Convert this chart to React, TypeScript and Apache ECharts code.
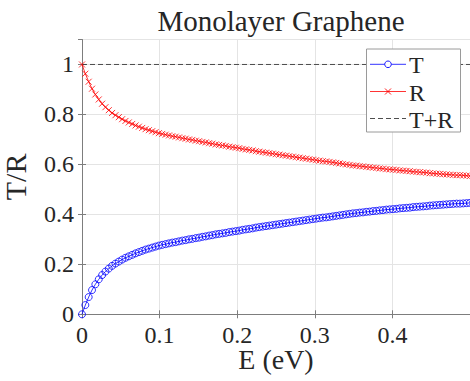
import React, { useEffect, useRef } from "react";
import * as echarts from "echarts";

const E = [
  0, 0.0043, 0.0086, 0.0129, 0.0172, 0.0216, 0.0259, 0.0302, 0.0345, 0.0388,
  0.0431, 0.0474, 0.0517, 0.056, 0.0603, 0.0647, 0.069, 0.0733, 0.0776, 0.0819,
  0.0862, 0.0905, 0.0948, 0.0991, 0.1034, 0.1078, 0.1121, 0.1164, 0.1207, 0.125,
  0.1293, 0.1336, 0.1379, 0.1422, 0.1466, 0.1509, 0.1552, 0.1595, 0.1638, 0.1681,
  0.1724, 0.1767, 0.181, 0.1853, 0.1897, 0.194, 0.1983, 0.2026, 0.2069, 0.2112,
  0.2155, 0.2198, 0.2241, 0.2284, 0.2328, 0.2371, 0.2414, 0.2457, 0.25, 0.2543,
  0.2586, 0.2629, 0.2672, 0.2716, 0.2759, 0.2802, 0.2845, 0.2888, 0.2931, 0.2974,
  0.3017, 0.306, 0.3103, 0.3147, 0.319, 0.3233, 0.3276, 0.3319, 0.3362, 0.3405,
  0.3448, 0.3491, 0.3534, 0.3578, 0.3621, 0.3664, 0.3707, 0.375, 0.3793, 0.3836,
  0.3879, 0.3922, 0.3966, 0.4009, 0.4052, 0.4095, 0.4138, 0.4181, 0.4224, 0.4267,
  0.431, 0.4353, 0.4397, 0.444, 0.4483, 0.4526, 0.4569, 0.4612, 0.4655, 0.4698,
  0.4741, 0.4784, 0.4828, 0.4871, 0.4914, 0.4957, 0.5,
];

const T = [
  0, 0.037, 0.069, 0.097, 0.12, 0.14, 0.157, 0.171, 0.183, 0.194,
  0.203, 0.211, 0.219, 0.226, 0.232, 0.238, 0.244, 0.249, 0.254, 0.259,
  0.263, 0.267, 0.271, 0.275, 0.278, 0.281, 0.284, 0.287, 0.289, 0.292,
  0.295, 0.297, 0.3, 0.302, 0.305, 0.307, 0.31, 0.312, 0.315, 0.317,
  0.32, 0.322, 0.324, 0.326, 0.329, 0.331, 0.333, 0.335, 0.338, 0.34,
  0.342, 0.344, 0.347, 0.349, 0.351, 0.353, 0.355, 0.357, 0.359, 0.361,
  0.363, 0.365, 0.367, 0.369, 0.371, 0.373, 0.375, 0.377, 0.379, 0.381,
  0.383, 0.385, 0.387, 0.388, 0.39, 0.392, 0.394, 0.396, 0.398, 0.4,
  0.402, 0.404, 0.405, 0.407, 0.408, 0.41, 0.411, 0.413, 0.414, 0.416,
  0.417, 0.419, 0.42, 0.421, 0.422, 0.424, 0.425, 0.426, 0.427, 0.429,
  0.43, 0.431, 0.432, 0.433, 0.435, 0.436, 0.437, 0.438, 0.439, 0.44,
  0.441, 0.442, 0.443, 0.443, 0.444, 0.445, 0.446,
];

const R = [
  1.0, 0.963, 0.931, 0.903, 0.88, 0.86, 0.843, 0.829, 0.817, 0.806,
  0.797, 0.789, 0.781, 0.774, 0.768, 0.762, 0.756, 0.751, 0.746, 0.741,
  0.737, 0.733, 0.729, 0.725, 0.722, 0.719, 0.716, 0.713, 0.711, 0.708,
  0.705, 0.703, 0.7, 0.698, 0.695, 0.693, 0.69, 0.688, 0.685, 0.683,
  0.68, 0.678, 0.676, 0.674, 0.671, 0.669, 0.667, 0.665, 0.662, 0.66,
  0.658, 0.656, 0.653, 0.651, 0.649, 0.647, 0.645, 0.643, 0.641, 0.639,
  0.637, 0.635, 0.633, 0.631, 0.629, 0.627, 0.625, 0.623, 0.621, 0.619,
  0.617, 0.615, 0.613, 0.612, 0.61, 0.608, 0.606, 0.604, 0.602, 0.6,
  0.598, 0.596, 0.595, 0.593, 0.592, 0.59, 0.589, 0.587, 0.586, 0.584,
  0.583, 0.581, 0.58, 0.579, 0.578, 0.576, 0.575, 0.574, 0.573, 0.571,
  0.57, 0.569, 0.568, 0.567, 0.565, 0.564, 0.563, 0.562, 0.561, 0.56,
  0.559, 0.558, 0.557, 0.557, 0.556, 0.555, 0.554,
];

// T+R sum line (constant at 1 across the range)
const TR_E = [0, 0.5];
const TR = [1, 1];

const TITLE = "Monolayer Graphene";
const X_NAME = "E (eV)";
const Y_NAME = "T/R";
const SERIES_NAMES = ["T", "R", "T+R"];

const FONT = "'Liberation Serif', 'DejaVu Serif', serif";
const TEXT = "#262626";
const AXIS = "#7d7d7d";
const GRID = "#e4e4e4";
const BLUE = "#0000ff";
const RED = "#ff0000";
const DASH = "#3a3a3a";

export default function App() {
  const ref = useRef<HTMLDivElement>(null);
  useEffect(() => {
    if (!ref.current) return;
    const chart = echarts.init(ref.current, undefined, { renderer: "svg" });
    const tickCommon = { inside: true, length: 4, lineStyle: { color: AXIS, width: 1 } };

    // custom MATLAB-like legend box
    const lx0 = 370, lx1 = 406, lxc = 388, ltx = 409;
    const rows = [64.3, 91.5, 118.5];
    const Z = 100;
    const legendText = (t: string, y: number) => ({
      type: "text",
      z: Z + 2,
      x: ltx,
      y,
      style: {
        text: t,
        fontFamily: FONT,
        fontSize: 24,
        fill: TEXT,
        verticalAlign: "middle",
        align: "left",
      },
    });
    const graphic = [
      {
        type: "rect",
        z: Z,
        silent: true,
        shape: { x: 366.5, y: 49, width: 94, height: 83 },
        style: { fill: "#ffffff", stroke: "#9a9a9a", lineWidth: 1 },
      },
      {
        type: "line",
        z: Z + 1,
        shape: { x1: lx0, y1: rows[0], x2: lx1, y2: rows[0] },
        style: { stroke: BLUE, lineWidth: 0.8 },
      },
      {
        type: "circle",
        z: Z + 2,
        shape: { cx: lxc, cy: rows[0], r: 3.3 },
        style: { fill: "#ffffff", stroke: BLUE, lineWidth: 0.9 },
      },
      legendText(SERIES_NAMES[0], rows[0] + 1),
      {
        type: "line",
        z: Z + 1,
        shape: { x1: lx0, y1: rows[1], x2: lx1, y2: rows[1] },
        style: { stroke: RED, lineWidth: 0.8 },
      },
      {
        type: "line",
        z: Z + 2,
        shape: { x1: lxc - 3, y1: rows[1] - 3, x2: lxc + 3, y2: rows[1] + 3 },
        style: { stroke: RED, lineWidth: 0.9 },
      },
      {
        type: "line",
        z: Z + 2,
        shape: { x1: lxc - 3, y1: rows[1] + 3, x2: lxc + 3, y2: rows[1] - 3 },
        style: { stroke: RED, lineWidth: 0.9 },
      },
      legendText(SERIES_NAMES[1], rows[1] + 1),
      {
        type: "line",
        z: Z + 1,
        shape: { x1: lx0, y1: rows[2], x2: lx1, y2: rows[2] },
        style: { stroke: DASH, lineWidth: 0.9, lineDash: [5, 3] },
      },
      legendText(SERIES_NAMES[2], rows[2] + 1),
    ];

    chart.setOption({
      animation: false,
      backgroundColor: "#ffffff",
      title: {
        text: TITLE,
        left: 276,
        top: 1,
        textAlign: "center",
        textStyle: { fontFamily: FONT, fontSize: 29, fontWeight: "normal", color: TEXT },
      },
      grid: { left: 82, right: 0, top: 39.5, bottom: 66.7, outerBoundsMode: "none", containLabel: false },
      graphic,
      xAxis: [
        {
          type: "value",
          min: 0,
          max: 0.5,
          interval: 0.1,
          position: "bottom",
          name: X_NAME,
          nameLocation: "middle",
          nameGap: 31,
          nameMoveOverlap: false,
          nameTextStyle: { fontFamily: FONT, fontSize: 28, color: TEXT },
          axisLine: { show: true, lineStyle: { color: AXIS, width: 1 } },
          axisTick: tickCommon,
          axisLabel: {
            margin: 9,
            fontFamily: FONT,
            fontSize: 24,
            color: TEXT,
            showMaxLabel: false,
          },
          splitLine: { show: true, lineStyle: { color: GRID, width: 1 } },
        },
        {
          type: "value",
          min: 0,
          max: 0.5,
          interval: 0.1,
          position: "top",
          axisLine: { show: true, lineStyle: { color: AXIS, width: 1 } },
          axisTick: tickCommon,
          axisLabel: { show: false },
          splitLine: { show: false },
        },
      ],
      yAxis: [
        {
          type: "value",
          min: 0,
          max: 1.1,
          interval: 0.2,
          position: "left",
          name: Y_NAME,
          nameLocation: "middle",
          nameGap: 52,
          nameMoveOverlap: false,
          nameTextStyle: { fontFamily: FONT, fontSize: 30, color: TEXT },
          axisLine: { show: true, lineStyle: { color: AXIS, width: 1 } },
          axisTick: tickCommon,
          axisLabel: {
            margin: 8,
            fontFamily: FONT,
            fontSize: 24,
            color: TEXT,
            showMaxLabel: false,
          },
          splitLine: { show: true, lineStyle: { color: GRID, width: 1 } },
        },
        {
          type: "value",
          min: 0,
          max: 1.1,
          interval: 0.2,
          position: "right",
          axisLine: { show: false },
          axisTick: { ...tickCommon, show: true },
          axisLabel: { show: false },
          splitLine: { show: false },
        },
      ],
      series: [
        {
          name: SERIES_NAMES[2],
          type: "line",
          data: TR_E.map((e, i) => [e, TR[i]]),
          symbol: "none",
          lineStyle: { color: DASH, width: 0.9, type: [5, 3] },
          itemStyle: { color: DASH },
          silent: true,
          z: 2,
        },
        {
          name: SERIES_NAMES[0],
          type: "line",
          data: E.map((e, i) => [e, T[i]]),
          symbol: "circle",
          symbolSize: 7,
          showAllSymbol: true,
          clip: false,
          lineStyle: { color: BLUE, width: 0.8 },
          itemStyle: { color: "rgba(0,0,0,0)", borderColor: BLUE, borderWidth: 0.8 },
          silent: true,
          z: 3,
        },
        {
          name: SERIES_NAMES[1],
          type: "line",
          data: E.map((e, i) => [e, R[i]]),
          symbol: "path://M0,0L10,10M10,0L0,10",
          symbolSize: 6,
          showAllSymbol: true,
          clip: false,
          lineStyle: { color: RED, width: 0.8 },
          itemStyle: { color: "rgba(0,0,0,0)", borderColor: RED, borderWidth: 0.8 },
          silent: true,
          z: 3,
        },
      ],
    });
    return () => chart.dispose();
  }, []);
  return (
    <div
      ref={ref}
      style={{ position: "absolute", left: 0, top: 0, width: 470, height: 381 }}
    />
  );
}
